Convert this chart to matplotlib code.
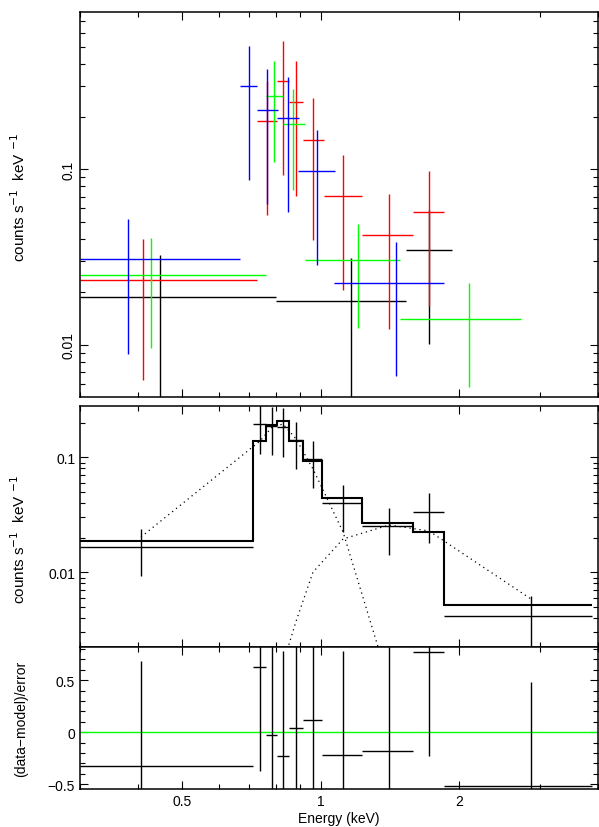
import numpy as np
import matplotlib
matplotlib.use("Agg")
import matplotlib.pyplot as plt
from matplotlib.ticker import FixedLocator, FixedFormatter, NullFormatter

plt.rcParams["font.family"] = ["Liberation Sans", "DejaVu Sans"]
plt.rcParams["font.size"] = 10

# ---- top panel: four spectra (keV centre, bin edges, rate, error-bar ends)
black_e = [0.448, 1.163, 1.718]
black_lo = [0.300, 0.800, 1.528]
black_hi = [0.800, 1.528, 1.928]
black_rate = [0.0187, 0.0178, 0.0348]
black_top = [0.0323, 0.0313, 0.0588]
black_bot = [0.001, 0.001, 0.0101]

red_e = [0.411, 0.764, 0.828, 0.884, 0.962, 1.118, 1.407, 1.718]
red_lo = [0.300, 0.727, 0.805, 0.853, 0.915, 1.016, 1.230, 1.586]
red_hi = [0.727, 0.805, 0.853, 0.915, 1.016, 1.230, 1.586, 1.852]
red_rate = [0.0234, 0.189, 0.320, 0.243, 0.147, 0.0706, 0.0423, 0.0573]
red_top = [0.0402, 0.320, 0.540, 0.416, 0.256, 0.121, 0.0725, 0.098]
red_bot = [0.00625, 0.055, 0.093, 0.0706, 0.0396, 0.0206, 0.0123, 0.0167]

green_e = [0.428, 0.791, 0.870, 1.205, 2.099]
green_lo = [0.300, 0.759, 0.826, 0.924, 1.487]
green_hi = [0.759, 0.826, 0.924, 1.487, 2.723]
green_rate = [0.0249, 0.262, 0.182, 0.0305, 0.0141]
green_top = [0.0405, 0.416, 0.288, 0.0489, 0.0225]
green_bot = [0.00956, 0.110, 0.0764, 0.0125, 0.00575]

blue_e = [0.381, 0.698, 0.764, 0.849, 0.982, 1.457]
blue_lo = [0.300, 0.668, 0.727, 0.805, 0.892, 1.069]
blue_hi = [0.668, 0.727, 0.808, 0.897, 1.074, 1.848]
blue_rate = [0.0309, 0.299, 0.218, 0.197, 0.098, 0.0225]
blue_top = [0.0522, 0.506, 0.374, 0.337, 0.168, 0.0386]
blue_bot = [0.00887, 0.0871, 0.0636, 0.0573, 0.0285, 0.00665]

# ---- middle panel: combined spectrum, folded model and its two components
edges = [0.300, 0.713, 0.760, 0.805, 0.853, 0.915, 1.007, 1.230, 1.586, 1.852, 3.88]
centres = [0.407, 0.738, 0.784, 0.828, 0.884, 0.962, 1.118, 1.407, 1.718, 2.862]
rate = [0.0166, 0.1948, 0.189, 0.1834, 0.1414, 0.0966, 0.0401, 0.0253, 0.0334, 0.00417]
rate_err = [0.0073, 0.088, 0.085, 0.083, 0.062, 0.043, 0.0177, 0.0112, 0.0153, 0.0021]
model = [0.01884, 0.1386, 0.191, 0.2069, 0.139, 0.0929, 0.0443, 0.0268, 0.0224, 0.00519]

soft_e = [0.407, 0.738, 0.784, 0.828, 0.884, 0.962, 1.118, 1.407]
soft = [0.0203, 0.1386, 0.1834, 0.1948, 0.1443, 0.0791, 0.0224, 0.00109]
hard_e = [0.828, 0.884, 0.962, 1.118, 1.407, 1.718, 2.862]
hard = [0.0016, 0.00377, 0.01006, 0.0195, 0.0258, 0.0229, 0.00586]

# ---- bottom panel: residuals in units of sigma
resid = [-0.32, 0.63, -0.03, -0.225, 0.04, 0.12, -0.22, -0.18, 0.77, -0.52]


def cross(ax, e, lo, hi, y, top, bot, color, lw=1.0):
    e = np.asarray(e)
    y = np.asarray(y)
    xerr = [e - np.asarray(lo), np.asarray(hi) - e]
    yerr = [y - np.asarray(bot), np.asarray(top) - y]
    ax.errorbar(e, y, xerr=xerr, yerr=yerr, fmt="none", ecolor=color,
                elinewidth=lw, capsize=0)


def style_axis(ax):
    ax.set_xscale("log")
    ax.set_xlim(0.3, 4.0)
    ax.xaxis.set_major_locator(FixedLocator([0.5, 1, 2]))
    ax.xaxis.set_minor_locator(FixedLocator([0.3, 0.4, 0.6, 0.7, 0.8, 0.9, 3, 4]))
    ax.xaxis.set_minor_formatter(NullFormatter())
    ax.tick_params(which="both", direction="in", top=True, right=True, width=0.8)
    ax.tick_params(which="major", length=6)
    ax.tick_params(which="minor", length=3.5)
    for s in ax.spines.values():
        s.set_linewidth(1.1)


def log_yticks(ax):
    ax.set_yscale("log")
    ax.yaxis.set_major_locator(FixedLocator([0.01, 0.1]))
    ax.yaxis.set_major_formatter(FixedFormatter(["0.01", "0.1"]))
    minors = [m * d for d in (0.001, 0.01, 0.1) for m in range(2, 10)]
    ax.yaxis.set_minor_locator(FixedLocator(minors))
    ax.yaxis.set_minor_formatter(NullFormatter())


fig = plt.figure(figsize=(5.99, 8.28), dpi=100)
W, H = 599.0, 828.0
x0, x1 = 80 / W, 598 / W
ax1 = fig.add_axes([x0, 1 - 398.3 / H, x1 - x0, (398.3 - 12.7) / H])
ax2 = fig.add_axes([x0, 1 - 648.3 / H, x1 - x0, (648.3 - 406.7) / H])
ax3 = fig.add_axes([x0, 1 - 790 / H, x1 - x0, (790 - 648.3) / H])

# top: individual spectra
cross(ax1, black_e, black_lo, black_hi, black_rate, black_top, black_bot, "black")
cross(ax1, red_e, red_lo, red_hi, red_rate, red_top, red_bot, "red")
cross(ax1, green_e, green_lo, green_hi, green_rate, green_top, green_bot, "#00ff00")
cross(ax1, blue_e, blue_lo, blue_hi, blue_rate, blue_top, blue_bot, "blue")
style_axis(ax1)
log_yticks(ax1)
ax1.set_ylim(0.00501, 0.794)
ax1.xaxis.set_major_formatter(NullFormatter())
for t in ax1.get_yticklabels():
    t.set_rotation(90)
    t.set_va("center")
ax1.set_ylabel("counts s$^{-1}$  keV $^{-1}$", fontsize=11)
ax1.yaxis.set_label_coords(-0.1, 0.52)

# middle: data, model histogram, dotted components
c = np.asarray(centres)
ed = np.asarray(edges)
ax2.errorbar(c, rate, xerr=[c - ed[:-1], ed[1:] - c], yerr=rate_err,
             fmt="none", ecolor="black", elinewidth=1.0, capsize=0)
ax2.stairs(model, edges, baseline=None, color="black", lw=1.5)
ax2.plot(soft_e, soft, ls=(0, (1, 3)), color="black", lw=0.9)
ax2.plot(hard_e, hard, ls=(0, (1, 3)), color="black", lw=0.9)
style_axis(ax2)
log_yticks(ax2)
ax2.set_ylim(0.00223, 0.281)
ax2.xaxis.set_major_formatter(NullFormatter())
ax2.set_ylabel("counts s$^{-1}$  keV $^{-1}$", fontsize=11)
ax2.yaxis.set_label_coords(-0.1, 0.45)

# bottom: residuals
ax3.axhline(0, color="#00ff00", lw=1.0)
ax3.errorbar(c, resid, xerr=[c - ed[:-1], ed[1:] - c], yerr=1.0,
             fmt="none", ecolor="black", elinewidth=1.0, capsize=0)
style_axis(ax3)
ax3.set_ylim(-0.545, 0.815)
ax3.yaxis.set_major_locator(FixedLocator([-0.5, 0, 0.5]))
ax3.yaxis.set_major_formatter(FixedFormatter(["\u22120.5", "0", "0.5"]))
ax3.yaxis.set_minor_locator(FixedLocator(np.arange(-0.5, 0.85, 0.1)))
ax3.xaxis.set_major_formatter(FixedFormatter(["0.5", "1", "2"]))
ax3.set_ylabel("(data\u2212model)/error")
ax3.yaxis.set_label_coords(-0.1, 0.5)
ax3.set_xlabel("Energy (keV)", labelpad=2)

fig.savefig("out.png", dpi=100)
